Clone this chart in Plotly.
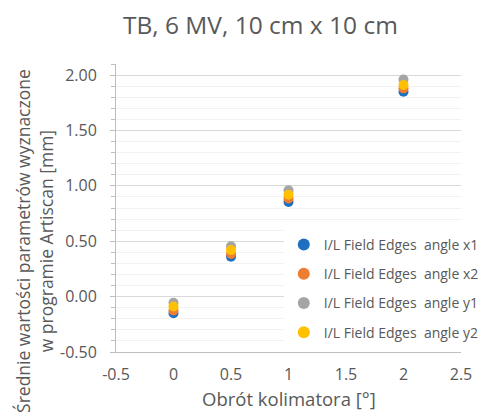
import plotly.graph_objects as go

rotation = [0, 0.5, 1, 2]
angle_x1 = [-0.15, 0.36, 0.855, 1.85]
angle_x2 = [-0.125, 0.385, 0.885, 1.88]
angle_y1 = [-0.055, 0.455, 0.96, 1.96]
angle_y2 = [-0.09, 0.42, 0.92, 1.91]

series_names = ["I/L Field Edges  angle x1", "I/L Field Edges  angle x2",
                "I/L Field Edges  angle y1", "I/L Field Edges  angle y2"]
series_values = [angle_x1, angle_x2, angle_y1, angle_y2]
colors = ["#1F6FC1", "#ED7D31", "#A5A5A5", "#FFC000"]

x_tick_vals = [-0.5, 0, 0.5, 1, 1.5, 2, 2.5]
x_tick_text = ["-0.5", "0", "0.5", "1", "1.5", "2", "2.5"]
y_tick_vals = [-0.5, 0, 0.5, 1, 1.5, 2]
y_tick_text = ["-0.50", "0.00", "0.50", "1.00", "1.50", "2.00"]

FONT = "Open Sans"
TXT = "#595959"

fig = go.Figure()
for i, (name, vals, col) in enumerate(zip(series_names, series_values, colors)):
    fig.add_trace(go.Scatter(
        x=rotation, y=vals, mode="markers", name=name, legendgroup=str(i),
        marker=dict(size=10, color=col, line=dict(width=0)),
    ))

fig.update_layout(
    width=496, height=412,
    margin=dict(l=116, r=14, t=64, b=60),
    paper_bgcolor="white", plot_bgcolor="white",
    font=dict(family=FONT, color=TXT, size=15),
    title=dict(text="TB, 6 MV, 10 cm x 10 cm", x=0.525, xanchor="center",
               y=1 - 25 / 412, yanchor="middle", yref="container",
               font=dict(family=FONT, size=24.5, color=TXT)),
    showlegend=True,
    legend=dict(x=(294 - 116) / 366, xanchor="left", y=(352 - 229) / 288, yanchor="top",
                bgcolor="white", font=dict(family=FONT, size=14, color=TXT),
                tracegroupgap=8, itemsizing="constant"),
)

fig.update_xaxes(
    range=[-0.5, 2.5], tickvals=x_tick_vals, ticktext=x_tick_text,
    showgrid=False, zeroline=False,
    showline=True, linecolor="#BFBFBF", linewidth=1, ticks="",
    tickfont=dict(family=FONT, size=16, color=TXT), ticklabelstandoff=8,
)
fig.update_yaxes(
    range=[-0.5, 2.1], tickvals=y_tick_vals, ticktext=y_tick_text,
    showgrid=True, gridcolor="#D9D9D9", gridwidth=1, zeroline=False,
    showline=True, linecolor="#BFBFBF", linewidth=1,
    ticks="outside", ticklen=5, tickcolor="#BFBFBF",
    minor=dict(dtick=0.1, tick0=0, showgrid=True, gridcolor="#F2F2F2", ticks="outside",
               ticklen=4, tickcolor="#BFBFBF"),
    tickfont=dict(family=FONT, size=16, color=TXT), ticklabelstandoff=10,
)

fig.add_annotation(
    text="Obrót kolimatora [°]", xref="paper", yref="paper",
    x=0.5, y=(352 - 398) / 288, xanchor="center", yanchor="middle",
    showarrow=False, font=dict(family=FONT, size=18.5, color=TXT),
)
fig.add_annotation(
    text="Średnie wartości parametrów wyznaczone<br>w programie Artiscan [mm]",
    xref="paper", yref="paper", x=(30 - 116) / 366, y=(352 - 241) / 288,
    xanchor="center", yanchor="middle", textangle=-90, showarrow=False,
    font=dict(family=FONT, size=17.5, color=TXT),
)

fig.write_html("out.html")
